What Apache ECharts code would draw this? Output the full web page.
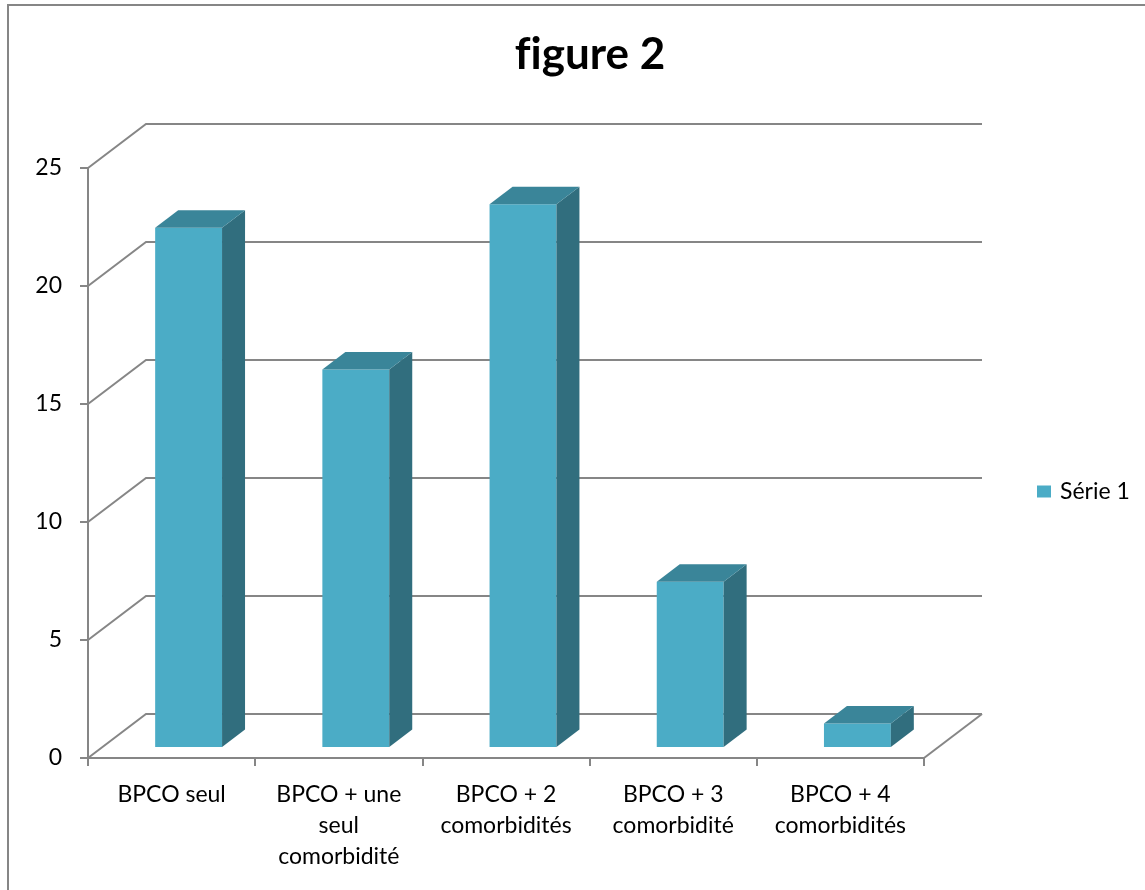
<!DOCTYPE html>
<html>
<head>
<meta charset="utf-8">
<script src="https://cdn.jsdelivr.net/npm/echarts@6/dist/echarts.min.js"></script>
<style>
  html, body { margin: 0; padding: 0; background: #ffffff; }
  #chart { width: 1145px; height: 890px; }
</style>
</head>
<body>
<div id="chart"></div>
<script>
// Data
const categories = [
  'BPCO seul',
  'BPCO + une\nseul\ncomorbidité',
  'BPCO + 2\ncomorbidités',
  'BPCO + 3\ncomorbidité',
  'BPCO + 4\ncomorbidités'
];
const values = [22, 16, 23, 7, 1];
const yTicks = [0, 5, 10, 15, 20, 25];
const seriesName = 'Série 1';
// zero-width non-joiner keeps "f" and "i" as separate glyphs
const titleText = 'f\u200Cigure 2';

// 3D look: depth of the plot box and of each bar (pixels)
const WALL_DX = 58, WALL_DY = 44;
const BAR_SHIFT_X = 17, BAR_SHIFT_Y = 11;
const BAR_DX = 23, BAR_DY = 17.5;
const LINE = '#868686';
const FONT = 'Lato, "Open Sans", sans-serif';

const chart = echarts.init(document.getElementById('chart'), null, { renderer: 'canvas' });

function wallItem(params, api) {
  const cs = params.coordSys;
  const v = api.value(1);
  const y = api.coord([0, v])[1];
  const x0 = cs.x, x1 = cs.x + cs.width;
  const children = [{
    type: 'polyline',
    shape: { points: [[x0, y], [x0 + WALL_DX, y - WALL_DY], [x1 + WALL_DX, y - WALL_DY]] },
    style: { stroke: LINE, lineWidth: 2, fill: null }
  }];
  if (v === 0) {
    children.push({
      type: 'polyline',
      shape: { points: [[x1, y], [x1 + WALL_DX, y - WALL_DY]] },
      style: { stroke: LINE, lineWidth: 2, fill: null }
    });
  }
  return { type: 'group', children };
}

function barItem(params, api) {
  const i = api.value(0), v = api.value(1);
  const base = api.coord([i, 0]);
  const top = api.coord([i, v]);
  const band = api.size([1, 0])[0];
  const w = band * 0.4;
  const L = base[0] - w / 2 + BAR_SHIFT_X, R = L + w;
  const B = base[1] - BAR_SHIFT_Y, T = top[1] - BAR_SHIFT_Y;
  return {
    type: 'group',
    children: [
      { type: 'rect', shape: { x: L, y: T, width: w, height: B - T }, style: { fill: '#4BACC6' } },
      { type: 'polygon', shape: { points: [[R, T], [R + BAR_DX, T - BAR_DY], [R + BAR_DX, B - BAR_DY], [R, B]] }, style: { fill: '#316E7E' } },
      { type: 'polygon', shape: { points: [[L, T], [L + BAR_DX, T - BAR_DY], [R + BAR_DX, T - BAR_DY], [R, T]] }, style: { fill: '#3A8599' } }
    ]
  };
}

chart.setOption({
  animation: false,
  backgroundColor: '#ffffff',
  graphic: [{
    type: 'rect',
    shape: { x: 8, y: 5, width: 1300, height: 1000 },
    style: { fill: null, stroke: LINE, lineWidth: 2 },
    z: -10
  }],
  title: {
    text: titleText,
    left: 585,
    textAlign: 'center',
    top: 28,
    textStyle: { fontFamily: FONT, fontWeight: 'bold', fontSize: 44, color: '#000000' }
  },
  legend: {
    data: [seriesName],
    left: 1037,
    top: 480,
    padding: 0,
    icon: 'rect',
    itemWidth: 14,
    itemHeight: 12,
    textStyle: { fontFamily: FONT, fontSize: 23, color: '#000000', padding: [0, 0, 0, 4] }
  },
  grid: { left: 88, top: 168, width: 836, height: 590 },
  xAxis: {
    type: 'category',
    data: categories,
    boundaryGap: true,
    axisLine: { show: true, lineStyle: { color: LINE, width: 2 } },
    axisTick: { show: true, length: 8, lineStyle: { color: LINE, width: 2 } },
    axisLabel: {
      interval: 0, margin: 21, fontFamily: FONT, fontSize: 23, color: '#000000',
      lineHeight: 31, align: 'center'
    },
    splitLine: { show: false }
  },
  yAxis: {
    type: 'value',
    min: 0, max: 25, interval: 5,
    axisLine: { show: true, lineStyle: { color: LINE, width: 2 } },
    axisTick: { show: true, length: 8, lineStyle: { color: LINE, width: 2 } },
    axisLabel: { margin: 26, fontFamily: FONT, fontSize: 23, color: '#000000' },
    splitLine: { show: false }
  },
  series: [
    {
      type: 'custom',
      name: 'walls',
      renderItem: wallItem,
      data: yTicks.map(v => [0, v]),
      silent: true,
      z: 1
    },
    {
      type: 'custom',
      name: seriesName,
      renderItem: barItem,
      itemStyle: { color: '#4BACC6' },
      data: values.map((v, i) => [i, v]),
      z: 3
    }
  ]
});
</script>
</body>
</html>
